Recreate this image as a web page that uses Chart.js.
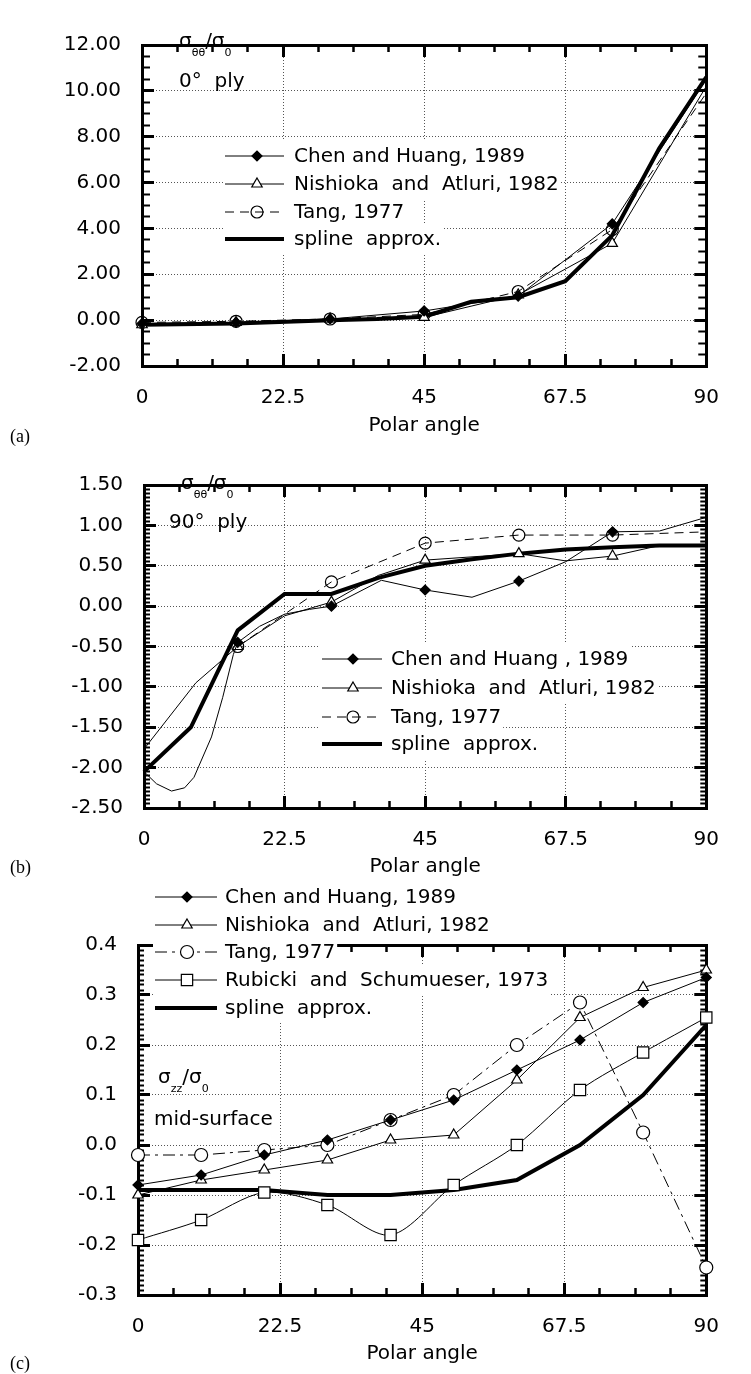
<!DOCTYPE html>
<html lang="en">
<head>
<meta charset="UTF-8">
<title>Stress ratio vs polar angle</title>
<script src="https://cdn.jsdelivr.net/npm/chart.js"></script>
<style>
    body { margin: 0; background: #fff; width: 751px; height: 1374px; position: relative; overflow: hidden; }
    canvas { position: absolute; left: 0; }
    .tag { position: absolute; left: 10px; font-family: "Liberation Serif", "Times New Roman", serif; font-size: 18px; }
</style>
</head>
<body>
<canvas id="chartA" width="751" height="450" style="top:0"></canvas>
<canvas id="chartB" width="751" height="450" style="top:440px"></canvas>
<canvas id="chartC" width="751" height="494" style="top:880px"></canvas>
<div class="tag" style="top:426px">(a)</div>
<div class="tag" style="top:857px">(b)</div>
<div class="tag" style="top:1353px">(c)</div>

<script>
    // (a) sigma_theta_theta / sigma_0, 0 deg ply
    const anglesA = [0, 15, 30, 45, 60, 75, 90];
    const chenA = [-0.15, -0.1, 0.05, 0.4, 1.05, 4.2, 10.5];
    const nishiokaA = [-0.2, -0.1, 0.05, 0.12, 1.1, 3.35, 10.2];
    const tangA = [-0.1, -0.05, 0.05, 0.25, 1.25, 3.95, 9.9];
    const splineAnglesA = [0, 15, 30, 37.5, 45, 52.5, 60, 67.5, 75, 82.5, 90];
    const splineA = [-0.2, -0.15, 0.0, 0.05, 0.15, 0.8, 1.0, 1.7, 3.7, 7.5, 10.6];
    const marksA = [0, 15, 30, 45, 60, 75];

    // (b) sigma_theta_theta / sigma_0, 90 deg ply
    const chenAnglesB = [0, 2, 4.4, 6.5, 8, 10.8, 12.6, 14.3, 15, 18.5, 22.5, 26.5, 30, 38, 45, 52.5, 60, 67.5, 75, 82.5, 90];
    const chenB = [-2.05, -2.2, -2.29, -2.25, -2.12, -1.62, -1.13, -0.6, -0.45, -0.25, -0.1, -0.04, 0.0, 0.32, 0.2, 0.11, 0.31, 0.55, 0.92, 0.93, 1.1];
    const nishiokaAnglesB = [0, 8.3, 15, 22.5, 30, 37.5, 45, 60, 67.5, 75, 82.5, 90];
    const nishiokaB = [-1.77, -0.95, -0.5, -0.12, 0.05, 0.38, 0.57, 0.65, 0.56, 0.62, 0.75, 0.75];
    const tangAnglesB = [15, 30, 45, 60, 75, 90];
    const tangB = [-0.5, 0.3, 0.78, 0.88, 0.88, 0.92];
    const splineAnglesB = [0, 7.5, 15, 22.5, 30, 37.5, 45, 52.5, 60, 67.5, 75, 82.5, 90];
    const splineB = [-2.05, -1.5, -0.3, 0.15, 0.15, 0.35, 0.5, 0.58, 0.65, 0.7, 0.73, 0.75, 0.75];
    const marksB = [15, 30, 45, 60, 75];

    // (c) sigma_zz / sigma_0, mid-surface
    const anglesC = [0, 10, 20, 30, 40, 50, 60, 70, 80, 90];
    const chenC = [-0.08, -0.06, -0.02, 0.01, 0.05, 0.09, 0.15, 0.21, 0.285, 0.335];
    const nishiokaC = [-0.1, -0.07, -0.05, -0.03, 0.01, 0.02, 0.13, 0.255, 0.315, 0.35];
    const tangC = [-0.02, -0.02, -0.01, 0.0, 0.05, 0.1, 0.2, 0.285, 0.025, -0.245];
    const rubickiC = [-0.19, -0.15, -0.095, -0.12, -0.18, -0.08, 0.0, 0.11, 0.185, 0.255];
    const splineC = [-0.09, -0.09, -0.09, -0.1, -0.1, -0.09, -0.07, 0.0, 0.1, 0.24];

    const FONT = '"DejaVu Sans", Verdana, sans-serif';
    Chart.defaults.font.family = FONT;
    Chart.defaults.font.size = 20;
    Chart.defaults.color = '#000';

    function line(label, xs, ys, marks, look) {
        return Object.assign({
            label: label,
            data: xs.map((x, i) => ({ x: x, y: ys[i] })),
            borderColor: '#000',
            borderWidth: 1,
            tension: 0,
            clip: false,
            pointBorderColor: '#000',
            pointBorderWidth: 1.2,
            pointRadius: c => (c.raw && marks.includes(c.raw.x) ? look.markSize : 0)
        }, look);
    }

    const chenLook = { pointStyle: 'rectRot', pointBackgroundColor: '#000', markSize: 5 };
    const nishiokaLook = { pointStyle: 'triangle', pointBackgroundColor: '#fff', markSize: 6 };
    const tangLook = { pointStyle: 'circle', pointBackgroundColor: 'rgba(0,0,0,0)', markSize: 6, borderDash: [9, 6] };
    const tangLookC = { pointStyle: 'circle', pointBackgroundColor: '#fff', markSize: 6.5, borderDash: [12, 5, 3, 5] };
    const rubickiLook = { pointStyle: 'rect', pointBackgroundColor: '#fff', markSize: 8, tension: 0.3 };
    const splineLook = { borderWidth: 4, markSize: 0 };

    function tickList(min, max, step) {
        const n = Math.round((max - min) / step);
        const out = [];
        for (let i = 0; i <= n; i++) out.push({ value: Math.round((min + i * step) * 1e6) / 1e6 });
        return out;
    }

    // zero-size axis whose only job is inward tick marks (and optionally the box edge)
    function edgeAxis(axis, position, min, max, list, len, width, weight, edge) {
        return {
            type: 'linear', axis: axis, position: position, min: min, max: max, weight: weight,
            afterBuildTicks: s => { s.ticks = list.map(t => ({ value: t.value })); },
            ticks: { display: false },
            title: { display: false },
            grid: { drawOnChartArea: false, drawTicks: true, tickLength: -len, tickWidth: width, tickColor: '#000', tickBorderDash: [] },
            border: { display: edge, width: 3, color: '#000' },
            afterFit: s => { if (axis === 'x') s.height = 0; else s.width = 0; }
        };
    }

    // key drawn straight from the datasets, each row on a white patch
    function drawKey(ctx, datasets, o) {
        ctx.font = '20px ' + FONT;
        ctx.textBaseline = 'middle';
        datasets.forEach((ds, i) => {
            const y = o.rows[i];
            const w = ctx.measureText(ds.label).width;
            ctx.fillStyle = '#fff';
            ctx.fillRect(o.x1 - 2, y - 15, o.text + w + 4 - o.x1, 30);
            ctx.strokeStyle = '#000';
            ctx.lineWidth = ds.borderWidth;
            ctx.setLineDash(ds.borderDash || []);
            ctx.beginPath();
            ctx.moveTo(o.x1, y);
            ctx.lineTo(o.x2, y);
            ctx.stroke();
            ctx.setLineDash([]);
            if (ds.markSize) {
                ctx.fillStyle = ds.pointBackgroundColor;
                ctx.lineWidth = 1.2;
                Chart.helpers.drawPoint(ctx, { pointStyle: ds.pointStyle, radius: ds.markSize, borderWidth: 1.2, rotation: 0 }, o.mark, y);
            }
            ctx.fillStyle = '#000';
            ctx.fillText(ds.label, o.text, y + 1);
        });
    }

    // stress ratio label with subscripts, plus the ply / surface note
    function drawNote(ctx, o) {
        ctx.fillStyle = '#000';
        ctx.textBaseline = 'alphabetic';
        let x = o.x;
        const put = (t, size, dy) => {
            ctx.font = size + 'px ' + FONT;
            ctx.fillText(t, x, o.y + dy);
            x += ctx.measureText(t).width;
        };
        put('σ', 20, 0);
        put(o.sub, 11, 9);
        put('/', 20, 0);
        put('σ', 20, 0);
        put('0', 11, 9);
        ctx.font = '20px ' + FONT;
        ctx.fillText(o.text, o.x2, o.y2);
    }

    function decor(p) {
        return {
            id: 'decor',
            afterDraw(chart) {
                const ctx = chart.ctx;
                ctx.save();
                ctx.setLineDash([]);
                drawKey(ctx, chart.data.datasets, p.key);
                drawNote(ctx, p.note);
                ctx.restore();
            }
        };
    }

    function options(p) {
        const xMajor = tickList(0, 90, 22.5);
        const xMinor = tickList(0, 90, 5.625);
        const yMajor = tickList(p.yMin, p.yMax, p.yStep);
        const yMinor = tickList(p.yMin, p.yMax, p.yMinor);
        return {
            responsive: false,
            animation: false,
            events: [],
            layout: { padding: { top: p.top, right: 751 - p.right, bottom: p.padBottom, left: 0 } },
            plugins: {
                legend: { display: false },
                tooltip: { enabled: false }
            },
            scales: {
                x: {
                    type: 'linear', position: 'bottom', min: 0, max: 90, weight: 10,
                    afterBuildTicks: s => { s.ticks = xMajor.map(t => ({ value: t.value })); },
                    ticks: { padding: 32, maxRotation: 0, autoSkip: false, callback: v => String(v) },
                    grid: { color: '#555', lineWidth: 1, drawTicks: true, tickLength: -12, tickWidth: 3, tickColor: '#000', tickBorderDash: [] },
                    border: { display: true, width: 3, color: '#000', dash: [1, 2] },
                    title: { display: true, text: 'Polar angle', padding: { top: 4, bottom: 4 } },
                    afterFit: s => { s.height = p.xHeight; }
                },
                y: {
                    type: 'linear', position: 'left', min: p.yMin, max: p.yMax, weight: 10,
                    afterBuildTicks: s => { s.ticks = yMajor.map(t => ({ value: t.value })); },
                    ticks: { padding: 33, callback: v => Number(v).toFixed(p.digits) },
                    grid: { color: '#555', lineWidth: 1, drawTicks: true, tickLength: -12, tickWidth: 3, tickColor: '#000', tickBorderDash: [] },
                    border: { display: true, width: 3, color: '#000', dash: [1, 2] },
                    afterFit: s => { s.width = p.left; }
                },
                xMinor: edgeAxis('x', 'bottom', 0, 90, xMinor, 7, 2.5, 0, false),
                xTop: edgeAxis('x', 'top', 0, 90, xMajor, 12, 3, 0, true),
                xTopMinor: edgeAxis('x', 'top', 0, 90, xMinor, 7, 2.5, 1, false),
                yMinor: edgeAxis('y', 'left', p.yMin, p.yMax, yMinor, p.yLen, 2, 0, false),
                yRight: edgeAxis('y', 'right', p.yMin, p.yMax, yMajor, 12, 3, 0, true),
                yRightMinor: edgeAxis('y', 'right', p.yMin, p.yMax, yMinor, p.yLen, 2, 1, false)
            }
        };
    }

    // nudge the layout padding until the plot box sits where it should
    function pin(chart, p) {
        const pad = { top: p.top, right: 751 - p.right, bottom: p.padBottom, left: 0 };
        for (let k = 0; k < 3; k++) {
            const a = chart.chartArea;
            if (!a) return;
            const dt = p.top - a.top;
            const dr = p.right - a.right;
            if (Math.abs(dt) < 0.5 && Math.abs(dr) < 0.5) return;
            pad.top += dt;
            pad.right -= dr;
            chart.options.layout.padding = { top: pad.top, right: pad.right, bottom: pad.bottom, left: pad.left };
            chart.update();
        }
    }

    const panelA = {
        top: 14, right: 734, left: 142, padBottom: 8, xHeight: 76,
        yMin: -2, yMax: 12, yStep: 2, yMinor: 0.5, yLen: 8, digits: 2,
        key: { rows: [156, 184, 212, 239], x1: 225, x2: 284, mark: 257, text: 294 },
        note: { x: 179, y: 47, sub: 'θθ', text: '0°  ply', x2: 179, y2: 87 }
    };
    const panelB = {
        top: 13, right: 735, left: 144, padBottom: 7, xHeight: 75,
        yMin: -2.5, yMax: 1.5, yStep: 0.5, yMinor: 0.05, yLen: 6, digits: 2,
        key: { rows: [219, 248, 277, 304], x1: 322, x2: 382, mark: 353, text: 391 },
        note: { x: 181, y: 49, sub: 'θθ', text: '90°  ply', x2: 169, y2: 88 }
    };
    const panelC = {
        top: 65, right: 732, left: 138, padBottom: 4, xHeight: 75,
        yMin: -0.3, yMax: 0.4, yStep: 0.1, yMinor: 0.01, yLen: 6, digits: 1,
        key: { rows: [17, 45, 72, 100, 128], x1: 155, x2: 217, mark: 187, text: 225 },
        note: { x: 158, y: 203, sub: 'zz', text: 'mid-surface', x2: 154, y2: 245 }
    };

    const chartA = new Chart(document.getElementById('chartA'), {
        type: 'line',
        data: {
            datasets: [
                line('Chen and Huang, 1989', anglesA, chenA, marksA, chenLook),
                line('Nishioka  and  Atluri, 1982', anglesA, nishiokaA, marksA, nishiokaLook),
                line('Tang, 1977', anglesA, tangA, marksA, tangLook),
                line('spline  approx.', splineAnglesA, splineA, [], splineLook)
            ]
        },
        options: options(panelA),
        plugins: [decor(panelA)]
    });

    const chartB = new Chart(document.getElementById('chartB'), {
        type: 'line',
        data: {
            datasets: [
                line('Chen and Huang , 1989', chenAnglesB, chenB, marksB, chenLook),
                line('Nishioka  and  Atluri, 1982', nishiokaAnglesB, nishiokaB, marksB, nishiokaLook),
                line('Tang, 1977', tangAnglesB, tangB, marksB, tangLook),
                line('spline  approx.', splineAnglesB, splineB, [], splineLook)
            ]
        },
        options: options(panelB),
        plugins: [decor(panelB)]
    });

    const chartC = new Chart(document.getElementById('chartC'), {
        type: 'line',
        data: {
            datasets: [
                line('Chen and Huang, 1989', anglesC, chenC, anglesC, chenLook),
                line('Nishioka  and  Atluri, 1982', anglesC, nishiokaC, anglesC, nishiokaLook),
                line('Tang, 1977', anglesC, tangC, anglesC, tangLookC),
                line('Rubicki  and  Schumueser, 1973', anglesC, rubickiC, anglesC, rubickiLook),
                line('spline  approx.', anglesC, splineC, [], splineLook)
            ]
        },
        options: options(panelC),
        plugins: [decor(panelC)]
    });

    try {
        pin(chartA, panelA);
        pin(chartB, panelB);
        pin(chartC, panelC);
    } catch (e) {
        console.error(e);
    }
</script>
</body>
</html>
